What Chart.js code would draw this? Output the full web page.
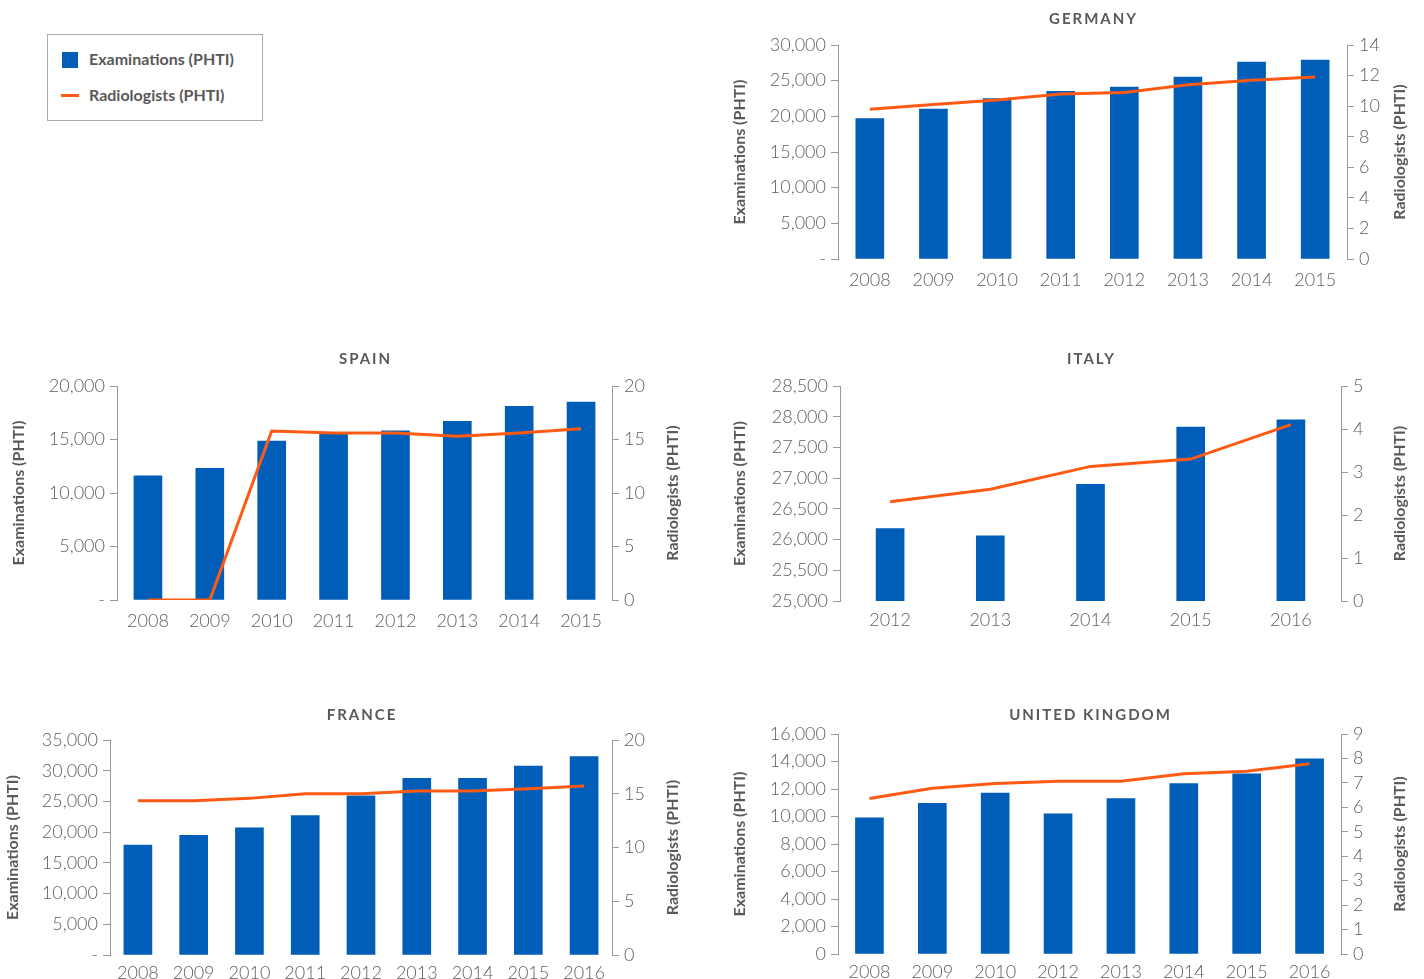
<!DOCTYPE html>
<html>
<head>
<meta charset="utf-8">
<script src="https://cdn.jsdelivr.net/npm/chart.js@4.4.1/dist/chart.umd.min.js"></script>
<style>
  body { margin: 0; background: #fff; width: 1424px; height: 979px; position: relative; overflow: hidden; font-family: Lato, sans-serif; }
  canvas { position: absolute; }
  #legend { position: absolute; left: 47px; top: 34px; width: 214px; height: 85px; border: 1px solid #aaa; }
  #legend .item { position: absolute; left: 41px; font: bold 16px Lato, sans-serif; color: #595959; line-height: 20px; }
  #legend .sw { position: absolute; }
</style>
</head>
<body>
<div id="legend">
  <span class="sw" style="left:14px; top:17px; width:16px; height:16px; background:#005eb8;"></span>
  <div class="item" style="top:14px;">Examinations (PHTI)</div>
  <span class="sw" style="left:13px; top:59px; width:18px; height:3px; background:#ff5a14;"></span>
  <div class="item" style="top:50px;">Radiologists (PHTI)</div>
</div>
<canvas id="germany" width="694" height="300" style="left:730px; top:0px;"></canvas>
<canvas id="spain" width="712" height="300" style="left:0px; top:340px;"></canvas>
<canvas id="italy" width="694" height="300" style="left:730px; top:340px;"></canvas>
<canvas id="france" width="712" height="279" style="left:0px; top:700px;"></canvas>
<canvas id="uk" width="694" height="279" style="left:730px; top:700px;"></canvas>
<script>
// Data
const germanyYears = ['2008', '2009', '2010', '2011', '2012', '2013', '2014', '2015'];
const germanyExams = [19700, 21000, 22500, 23500, 24100, 25500, 27600, 27900];
const germanyRadiologists = [9.8, 10.1, 10.4, 10.8, 10.9, 11.4, 11.7, 11.9];

const spainYears = ['2008', '2009', '2010', '2011', '2012', '2013', '2014', '2015'];
const spainExams = [11600, 12300, 14850, 15600, 15800, 16700, 18100, 18500];
const spainRadiologists = [0, 0, 15.8, 15.6, 15.6, 15.3, 15.6, 16.0];

const italyYears = ['2012', '2013', '2014', '2015', '2016'];
const italyExams = [26180, 26060, 26900, 27830, 27950];
const italyRadiologists = [2.31, 2.6, 3.13, 3.3, 4.1];

const franceYears = ['2008', '2009', '2010', '2011', '2012', '2013', '2014', '2015', '2016'];
const franceExams = [17900, 19500, 20700, 22700, 25900, 28750, 28750, 30750, 32300];
const franceRadiologists = [14.35, 14.35, 14.57, 15.0, 15.0, 15.26, 15.26, 15.47, 15.72];

const ukYears = ['2008', '2009', '2010', '2012', '2013', '2014', '2015', '2016'];
const ukExams = [9900, 10950, 11700, 10200, 11300, 12400, 13100, 14200];
const ukRadiologists = [6.36, 6.78, 6.97, 7.07, 7.07, 7.37, 7.48, 7.78];

const BLUE = '#005eb8';
const ORANGE = '#ff5a14';
const GREY = '#606060';
const AXIS = '#999';

// chart title + axis titles (both read bottom-to-top like the original)
const titlesPlugin = {
  id: 'titles',
  afterDraw(chart, args, opts) {
    const { ctx, chartArea } = chart;
    ctx.save();
    ctx.fillStyle = '#595959';
    ctx.textAlign = 'center';
    ctx.textBaseline = 'middle';
    ctx.font = 'bold 15px Lato';
    ctx.letterSpacing = '2px';
    ctx.fillText(opts.text, (chartArea.left + chartArea.right) / 2 + 1, opts.titleY);
    ctx.letterSpacing = '0px';
    ctx.font = 'bold 16px Lato';
    const midY = (chartArea.top + chartArea.bottom) / 2;
    const side = [
      [chartArea.left - opts.leftOffset, 'Examinations (PHTI)'],
      [chartArea.right + opts.rightOffset, 'Radiologists (PHTI)']
    ];
    side.forEach(([x, t]) => {
      ctx.save();
      ctx.translate(x, midY);
      ctx.rotate(-Math.PI / 2);
      ctx.fillText(t, 0, 0);
      ctx.restore();
    });
    ctx.restore();
  }
};

function fmt(dash) {
  return (v) => (v === 0 && dash) ? '-' : Number(v).toLocaleString('en-US');
}

function makeChart(id, c) {
  const tickFont = { family: 'Lato', size: 18, weight: '300' };
  new Chart(document.getElementById(id), {
    type: 'bar',
    data: {
      labels: c.years,
      datasets: [{
        type: 'line',
        label: 'Radiologists (PHTI)',
        data: c.rad,
        yAxisID: 'y1',
        borderColor: ORANGE,
        borderWidth: 3,
        pointRadius: 0,
        tension: 0,
        order: 0
      }, {
        label: 'Examinations (PHTI)',
        data: c.exams,
        yAxisID: 'y',
        backgroundColor: BLUE,
        barThickness: 28,
        order: 1
      }]
    },
    options: {
      responsive: false,
      animation: false,
      layout: { padding: { top: c.padTop, left: 0, right: 0, bottom: 0 } },
      plugins: {
        legend: { display: false },
        tooltip: { enabled: false },
        titles: { text: c.title, titleY: c.titleY, leftOffset: c.leftOffset, rightOffset: c.rightOffset }
      },
      scales: {
        x: {
          grid: { display: false, drawTicks: false },
          border: { display: false },
          ticks: { color: GREY, font: tickFont, padding: c.xPad, maxRotation: 0, autoSkip: false },
          afterFit: (s) => { s.height = c.xH; }
        },
        y: {
          position: 'left',
          min: c.yMin, max: c.yMax,
          grid: { drawOnChartArea: false, color: AXIS, tickLength: 7 },
          border: { color: AXIS },
          ticks: { stepSize: c.yStep, color: GREY, font: tickFont, padding: 5, autoSkip: false, callback: fmt(c.dash) },
          afterFit: (s) => { s.width = c.leftW; }
        },
        y1: {
          position: 'right',
          min: 0, max: c.rMax,
          grid: { drawOnChartArea: false, color: AXIS, tickLength: 7 },
          border: { color: AXIS },
          ticks: { stepSize: c.rStep, color: GREY, font: tickFont, padding: 5, autoSkip: false },
          afterFit: (s) => { s.width = c.rightW; }
        }
      }
    },
    plugins: [titlesPlugin]
  });
}

makeChart('germany', {
  title: 'GERMANY', years: germanyYears, exams: germanyExams, rad: germanyRadiologists,
  yMin: 0, yMax: 30000, yStep: 5000, rMax: 14, rStep: 2, dash: true,
  padTop: 45, titleY: 19, leftW: 108, rightW: 77, xH: 41, xPad: 10, leftOffset: 98, rightOffset: 53
});
makeChart('spain', {
  title: 'SPAIN', years: spainYears, exams: spainExams, rad: spainRadiologists,
  yMin: 0, yMax: 20000, yStep: 5000, rMax: 20, rStep: 5, dash: true,
  padTop: 46, titleY: 19, leftW: 117, rightW: 100, xH: 40, xPad: 10, leftOffset: 98, rightOffset: 61
});
makeChart('italy', {
  title: 'ITALY', years: italyYears, exams: italyExams, rad: italyRadiologists,
  yMin: 25000, yMax: 28500, yStep: 500, rMax: 5, rStep: 1, dash: false,
  padTop: 46, titleY: 19, leftW: 110, rightW: 83, xH: 39, xPad: 8, leftOffset: 100, rightOffset: 59
});
makeChart('france', {
  title: 'FRANCE', years: franceYears, exams: franceExams, rad: franceRadiologists,
  yMin: 0, yMax: 35000, yStep: 5000, rMax: 20, rStep: 5, dash: true,
  padTop: 40, titleY: 15, leftW: 110, rightW: 100, xH: 24, xPad: 7, leftOffset: 97, rightOffset: 61
});
makeChart('uk', {
  title: 'UNITED KINGDOM', years: ukYears, exams: ukExams, rad: ukRadiologists,
  yMin: 0, yMax: 16000, yStep: 2000, rMax: 9, rStep: 1, dash: false,
  padTop: 34, titleY: 15, leftW: 108, rightW: 83, xH: 25, xPad: 7, leftOffset: 98, rightOffset: 59
});
</script>
</body>
</html>
